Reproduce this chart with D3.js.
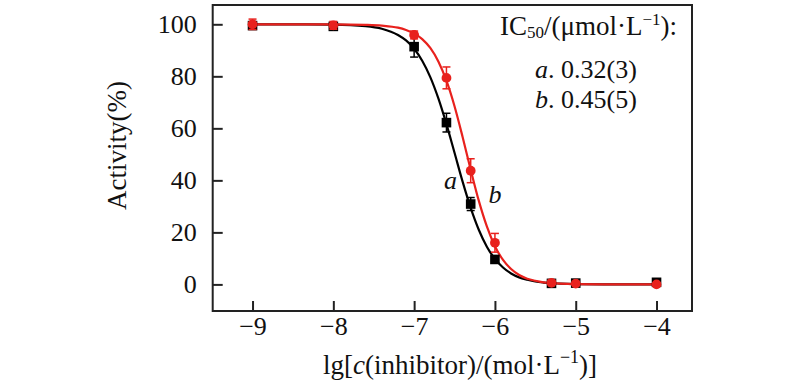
<!DOCTYPE html>
<html><head><meta charset="utf-8">
<script src="https://cdn.jsdelivr.net/npm/d3@7"></script>
<style>
html,body{margin:0;padding:0;background:#fff;}
svg{display:block;font-family:"Liberation Serif","Times New Roman",serif;}
</style></head>
<body>
<svg id="chart" width="800" height="383"></svg>
<script>
// ---- data ----
const concentrations = [-9, -8, -7, -6.6, -6.3, -6, -5.3, -5, -4];
const activityA = [99.5, 99.2, 91.4, 62.2, 30.9, 9.6, 0.4, 0.5, 0.8];
const errorA    = [1.0, 1.0, 4.0, 3.6, 2.5, 1.0, 0.5, 0.5, 0.5];
const activityB = [100, 99.6, 95.9, 79.4, 43.7, 16.0, 0.6, 0.3, 0.0];
const errorB    = [2.0, 1.5, 1.5, 4.2, 4.6, 3.6, 0.6, 0.5, 0.5];

// fitted curves
const curveX = [-9, -8.5, -8, -7.6, -7.4, -7.2, -7.1, -7.0, -6.9, -6.8, -6.7, -6.6, -6.5, -6.4, -6.3, -6.2, -6.1, -6.0, -5.9, -5.8, -5.7, -5.6, -5.5, -5.4, -5.2, -5.0, -4.5, -4];
const curveA = [100, 100, 99.9, 99.3, 98.3, 95.9, 93.8, 90.6, 86.0, 79.7, 71.5, 61.6, 50.6, 39.5, 29.4, 21.0, 14.5, 9.8, 6.5, 4.2, 2.7, 1.8, 1.1, 0.7, 0.3, 0.1, 0, 0];
const curveB = [100, 100, 100, 99.8, 99.5, 98.7, 97.8, 96.5, 94.3, 90.9, 85.7, 78.3, 68.5, 56.7, 44.1, 32.2, 22.3, 14.7, 9.4, 5.9, 3.6, 2.2, 1.4, 0.8, 0.3, 0.1, 0, 0];

const xTicks = [-9, -8, -7, -6, -5, -4];
const yTicks = [0, 20, 40, 60, 80, 100];
const yTitle = "Activity(%)";
const legendRows = [["a", ". 0.32(3)"], ["b", ". 0.45(5)"]];
const curveLabels = [["a", -6.63, 36.5], ["b", -6.08, 31.4]];

// ---- layout ----
const L = 212.7, R = 692, T = 5, B = 311;
const RED = "#e8211d", BLK = "#000";
const FONT = '"Liberation Serif","Times New Roman",serif';
const svg = d3.select("#chart");

const x = d3.scaleLinear().domain([-9.493, -3.561]).range([L, R]);
const y = d3.scaleLinear().domain([0, 100]).range([284.4, 24.3]);

// axes (inward ticks)
const gx = svg.append("g").attr("transform", `translate(0,${B})`)
  .call(d3.axisBottom(x).tickValues(xTicks).tickSize(-10).tickPadding(6).tickFormat(d3.format("d")));
const gy = svg.append("g").attr("transform", `translate(${L},0)`)
  .call(d3.axisLeft(y).tickValues(yTicks).tickSize(-10).tickPadding(16));
[gx, gy].forEach(g => {
  g.attr("font-family", FONT).attr("font-size", 26);
  g.select(".domain").remove();
  g.selectAll(".tick line").attr("stroke", "#222").attr("stroke-width", 2);
  g.selectAll(".tick text").attr("fill", "#111").style("font-size", "26px").style("font-family", FONT);
});

// frame
svg.append("rect").attr("x", L).attr("y", T).attr("width", R - L).attr("height", B - T)
  .attr("fill", "none").attr("stroke", "#222").attr("stroke-width", 2);

// curves
const line = d3.line().x(d => x(d[0])).y(d => y(d[1])).curve(d3.curveMonotoneX);
svg.append("path").datum(curveX.map((v, i) => [v, curveA[i]]))
  .attr("d", line).attr("fill", "none").attr("stroke", BLK).attr("stroke-width", 2.2);
svg.append("path").datum(curveX.map((v, i) => [v, curveB[i]]))
  .attr("d", line).attr("fill", "none").attr("stroke", RED).attr("stroke-width", 2.2);

// error bars + markers
function errorBars(vals, errs, color) {
  const g = svg.append("g").attr("stroke", color).attr("stroke-width", 1.5);
  concentrations.forEach((c, i) => {
    const cx = x(c), y1 = y(vals[i] + errs[i]), y2 = y(vals[i] - errs[i]);
    g.append("line").attr("x1", cx).attr("x2", cx).attr("y1", y1).attr("y2", y2);
    g.append("line").attr("x1", cx - 4).attr("x2", cx + 4).attr("y1", y1).attr("y2", y1);
    g.append("line").attr("x1", cx - 4).attr("x2", cx + 4).attr("y1", y2).attr("y2", y2);
  });
}
errorBars(activityA, errorA, BLK);
svg.append("g").selectAll("rect").data(concentrations).join("rect")
  .attr("x", d => x(d) - 4.8).attr("y", (d, i) => y(activityA[i]) - 4.8)
  .attr("width", 9.6).attr("height", 9.6).attr("fill", BLK);
errorBars(activityB, errorB, RED);
svg.append("g").selectAll("circle").data(concentrations).join("circle")
  .attr("cx", d => x(d)).attr("cy", (d, i) => y(activityB[i])).attr("r", 4.9).attr("fill", RED);

// curve labels
curveLabels.forEach(([t, cx, cy]) => {
  svg.append("text").attr("x", x(cx)).attr("y", y(cy)).attr("font-size", 26)
    .attr("font-style", "italic").attr("fill", "#111").text(t);
});

// legend
const lt = svg.append("text").attr("x", 500).attr("y", 35).attr("font-size", 27).attr("fill", "#111");
lt.append("tspan").text("IC");
lt.append("tspan").attr("font-size", 17).attr("dy", 3).text("50");
lt.append("tspan").attr("dy", -3).text("/(μmol·L");
lt.append("tspan").attr("font-size", 17).attr("dy", -10).text("−1");
lt.append("tspan").attr("dy", 10).text("):");
legendRows.forEach(([k, v], i) => {
  const t = svg.append("text").attr("x", 535).attr("y", 78 + i * 30).attr("font-size", 26).attr("fill", "#111");
  t.append("tspan").attr("font-style", "italic").text(k);
  t.append("tspan").text(v);
});

// axis titles
const xt = svg.append("text").attr("x", 323).attr("y", 374).attr("font-size", 27).attr("fill", "#111");
xt.append("tspan").text("lg[");
xt.append("tspan").attr("font-style", "italic").text("c");
xt.append("tspan").text("(inhibitor)/(mol·L");
xt.append("tspan").attr("font-size", 18).attr("dy", -11).text("−1");
xt.append("tspan").attr("dy", 11).text(")]");

svg.append("text").attr("transform", "translate(126,210) rotate(-90)")
  .attr("font-size", 27).attr("fill", "#111").text(yTitle);
</script>
</body></html>
